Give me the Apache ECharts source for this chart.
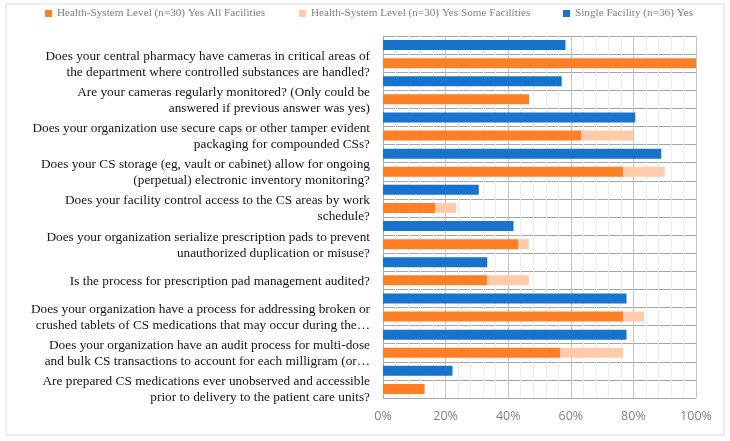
<!DOCTYPE html>
<html>
<head>
<meta charset="utf-8">
<script src="https://cdn.jsdelivr.net/npm/echarts@6/dist/echarts.min.js"></script>
<style>
  html, body { margin: 0; padding: 0; background: #fff; }
  #chart { width: 730px; height: 441px; }
</style>
</head>
<body>
<div id="chart"></div>
<script>
// questions, top to bottom
const questions = [
  'Does your central pharmacy have cameras in critical areas of\nthe department where controlled substances are handled?',
  'Are your cameras regularly monitored? (Only could be\nanswered if previous answer was yes)',
  'Does your organization use secure caps or other tamper evident\npackaging for compounded CSs?',
  'Does your CS storage (eg, vault or cabinet) allow for ongoing\n(perpetual) electronic inventory monitoring?',
  'Does your facility control access to the CS areas by work\nschedule?',
  'Does your organization serialize prescription pads to prevent\nunauthorized duplication or misuse?',
  'Is the process for prescription pad management audited?',
  'Does your organization have a process for addressing broken or\ncrushed tablets of CS medications that may occur during the\u2026',
  'Does your organization have an audit process for multi-dose\nand bulk CS transactions to account for each milligram (or\u2026',
  'Are prepared CS medications ever unobserved and accessible\nprior to delivery to the patient care units?'
];

const seriesNames = [
  'Health-System Level (n=30) Yes All Facilities',
  'Health-System Level (n=30) Yes Some Facilities',
  'Single Facility (n=36) Yes'
];

// percent values
const hsAll = [100, 46.7, 63.3, 76.7, 16.7, 43.3, 33.3, 76.7, 56.7, 13.3];
const hsSome = [0, 0, 16.7, 13.3, 6.7, 3.3, 13.3, 6.7, 20, 0];
const singleFacility = [58.3, 57.1, 80.6, 88.9, 30.6, 41.7, 33.3, 77.8, 77.8, 22.2];

const xTicks = [0, 20, 40, 60, 80, 100];

const colors = { all: '#ff7f27', some: '#ffcba8', single: '#1873cc' };
const serif = '"Liberation Serif", "DejaVu Serif", serif';

const chart = echarts.init(document.getElementById('chart'));

// 20 half-rows, only used for the horizontal rules
const halfRows = questions.flatMap((q, i) => ['a' + i, 'b' + i]);

const legendAt = [40, 294, 558];

chart.setOption({
  animation: false,
  graphic: [{
    type: 'rect',
    shape: { x: 6, y: 4, width: 718, height: 431 },
    style: { fill: 'none', stroke: '#d9d9d9', lineWidth: 1 }
  }],
  legend: seriesNames.map((name, i) => ({
    data: [name],
    left: legendAt[i],
    top: 3,
    icon: 'rect',
    itemWidth: 7,
    itemHeight: 7,
    itemGap: 4,
    textStyle: { fontFamily: serif, fontSize: 11.2, color: '#7f7f7f' }
  })),
  // second grid sits a little lower: it only carries the question labels
  grid: [
    { left: 383, right: 34, top: 36, bottom: 43 },
    { left: 383, right: 34, top: 46, bottom: 33 }
  ],
  xAxis: [{
    type: 'value',
    min: xTicks[0],
    max: xTicks[xTicks.length - 1],
    interval: 20,
    axisLine: { show: false },
    axisTick: { show: false },
    axisLabel: {
      formatter: '{value}%',
      color: '#808080',
      fontFamily: '"Open Sans", sans-serif',
      fontSize: 12.5,
      margin: 12
    },
    splitLine: { lineStyle: { color: '#c4c4c4' } },
    minorTick: { show: false, splitNumber: 5 },
    minorSplitLine: { show: true, lineStyle: { color: '#ededed' } }
  }, {
    type: 'value',
    gridIndex: 1,
    min: 0,
    max: 100,
    show: false
  }],
  yAxis: [{
    type: 'category',
    data: questions,
    inverse: true,
    axisLine: { lineStyle: { color: '#8fb1dd' } },
    axisTick: { show: false },
    splitLine: { show: false },
    axisLabel: { show: false }
  }, {
    type: 'category',
    data: halfRows,
    inverse: true,
    position: 'left',
    axisLine: { show: false },
    axisTick: { show: false },
    axisLabel: { show: false },
    splitLine: { show: true, lineStyle: { color: '#a6a6a6' } }
  }, {
    type: 'category',
    gridIndex: 1,
    data: questions,
    inverse: true,
    axisLine: { show: false },
    axisTick: { show: false },
    splitLine: { show: false },
    axisLabel: {
      interval: 0,
      showMinLabel: true,
      showMaxLabel: true,
      color: '#141414',
      fontFamily: serif,
      fontSize: 13.3,
      lineHeight: 16,
      align: 'right',
      margin: 13
    }
  }],
  series: [{
    name: seriesNames[2],
    type: 'bar',
    data: singleFacility,
    barWidth: 10,
    barGap: '81%',
    itemStyle: { color: colors.single }
  }, {
    name: seriesNames[0],
    type: 'bar',
    stack: 'hs',
    data: hsAll,
    barWidth: 10,
    itemStyle: { color: colors.all }
  }, {
    name: seriesNames[1],
    type: 'bar',
    stack: 'hs',
    data: hsSome,
    barWidth: 10,
    itemStyle: { color: colors.some }
  }]
});
</script>
</body>
</html>
